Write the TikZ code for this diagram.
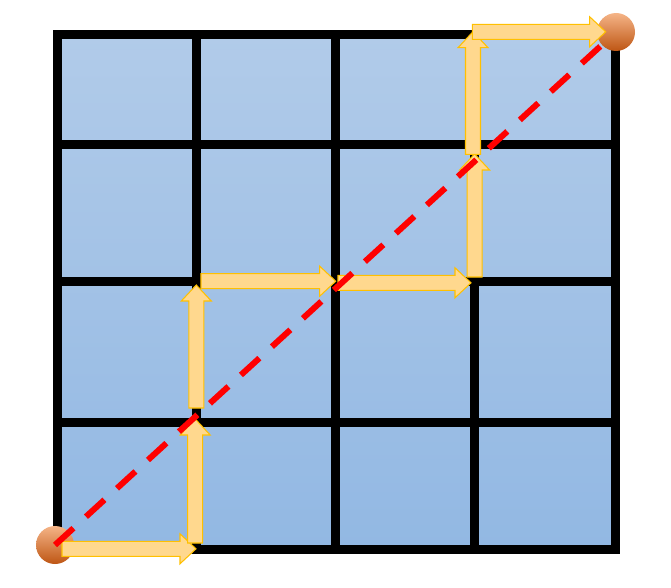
\documentclass[tikz,border=0pt]{standalone}
\usepackage{tikz}
\usetikzlibrary{calc}
\definecolor{gridtop}{RGB}{177,203,233}
\definecolor{gridbot}{RGB}{146,184,227}
\definecolor{balltop}{RGB}{245,180,135}
\definecolor{ballmid}{RGB}{236,128,52}
\definecolor{ballbot}{RGB}{190,86,20}
\definecolor{arrowfill}{RGB}{255,216,142}
\definecolor{arrowedge}{RGB}{255,192,0}

% block arrow from #1 to #2 (shaft 15px, head 30px wide, 16px long)
\newcommand{\blockarrow}[2]{%
  \draw[blk] let \p1=(#1), \p2=(#2), \n1={atan2(\y2-\y1,\x2-\x1)},
    \n2={veclen(\x2-\x1,\y2-\y1)} in [shift={(\p1)},rotate=\n1]
    (0pt,-0.15cm) -- ({\n2+0pt-0.32cm},-0.15cm) -- ({\n2+0pt-0.32cm},-0.3cm)
    -- ({\n2+0pt},0pt) -- ({\n2+0pt-0.32cm},0.3cm) -- ({\n2+0pt-0.32cm},0.15cm)
    -- (0pt,0.15cm) -- cycle;}

\begin{document}
\begin{tikzpicture}[x=0.02cm,y=-0.02cm,
  gridline/.style={line width=0.18cm,black,line cap=square},
  ball/.style={circle,minimum size=0.76cm,inner sep=0pt,top color=balltop,middle color=ballmid,bottom color=ballbot},
  blk/.style={fill=arrowfill,draw=arrowedge,line width=0.6pt,line join=miter},
  diag/.style={red,line width=0.12cm,dash pattern=on 0.5cm off 0.34cm}]
\useasboundingbox (0,0) rectangle (671,587);
% board
\shade[top color=gridtop,bottom color=gridbot] (57,35) rectangle (615.7,549.8);
\foreach \x in {196.3,335.6,474.7} \draw[gridline] (\x,35) -- (\x,549.8);
\foreach \y in {144.5,281.2,422.8} \draw[gridline] (57,\y) -- (615.7,\y);
\draw[gridline] (57,35) rectangle (615.7,549.8);
% start and goal
\node[ball] (start) at (55,545) {};
\node[ball] (goal) at (616,32) {};
% path points
\coordinate (s1) at (62,548.8);  \coordinate (t1) at (196,548.8);
\coordinate (s2) at (195.2,543); \coordinate (t2) at (195.2,419);
\coordinate (s3) at (196.3,408); \coordinate (t3) at (196.3,285);
\coordinate (s4) at (201,281.2); \coordinate (t4) at (335.7,281.2);
\coordinate (s5) at (338,282.8); \coordinate (t5) at (471,282.8);
\coordinate (s6) at (474.6,277); \coordinate (t6) at (474.6,154);
\coordinate (s7) at (473,154.3); \coordinate (t7) at (473,31.7);
\coordinate (s8) at (472.3,31.8); \coordinate (t8) at (605.7,31.8);
\foreach \i in {1,...,8} \blockarrow{s\i}{t\i};
% straight line
\draw[diag] (start.center) -- (goal);
\end{tikzpicture}
\end{document}
